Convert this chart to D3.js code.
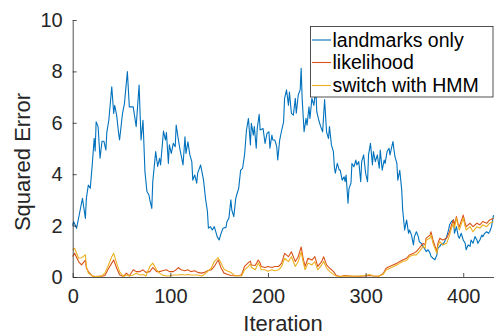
<!DOCTYPE html>
<html>
<head>
<meta charset="utf-8">
<script src="https://cdn.jsdelivr.net/npm/d3@7"></script>
<style>
  html, body { margin: 0; padding: 0; background: #fff; }
  svg { display: block; font-family: "Liberation Sans", Arial, Helvetica, sans-serif; }
</style>
</head>
<body>
<svg id="chart" width="494" height="335"></svg>
<script>
// landmarks only
const iterLandmarks = [0,1,4,7,10,13,14,16,18,20,22,23,24,26,28,30,32,34,35,37,40,42,43,45,47,48,51,53,56,58,62,65,68,70,72,74,76,78,79,81,82,85,87,89,90,93,95,96,98,99,101,103,105,106,108,110,111,113,115,116,118,120,122,123,125,127,128,131,134,136,138,139,141,143,145,146,148,150,152,154,157,158,160,162,163,165,167,168,170,172,174,176,178,180,182,183,185,186,188,189,191,192,195,197,199,201,202,204,205,207,209,210,212,214,216,217,219,221,222,224,226,228,229,231,233,234,235,237,239,240,242,243,245,247,249,250,252,254,256,258,260,262,263,265,267,268,269,271,273,274,276,278,279,280,282,283,285,286,288,290,291,293,295,296,298,300,302,303,305,307,308,310,312,314,315,317,319,320,322,324,325,326,328,330,332,333,335,337,338,340,342,344,345,347,349,350,352,354,355,357,359,361,362,364,366,367,369,371,373,374,376,378,379,381,383,385,386,388,390,391,393,395,396,398,400,402,403,405,407,408,410,412,414,415,417,419,420,422,424,426,427,429,431];
const landmarks = [2.0,2.15,1.9,2.48,3.06,2.28,3.06,3.58,3.45,4.36,5.4,4.9,6.04,5.85,4.62,5.28,5.28,4.94,5.65,6.1,7.4,6.36,6.68,6.3,5.6,5.33,6.36,6.75,7.99,6.62,6.62,5.85,7.47,5.33,6.1,4.1,3.33,3.2,3.0,2.67,3.7,4.88,4.3,4.62,4.36,5.68,5.33,5.62,4.42,5.14,4.81,5.2,5.07,5.91,5.4,4.94,4.75,4.36,5.46,4.81,5.26,4.75,4.49,3.77,3.97,3.65,4.04,4.36,3.77,3.06,2.55,1.9,1.96,1.83,1.96,1.83,1.57,1.44,1.7,1.9,1.93,2.16,2.29,3.0,2.6,2.35,3.06,3.2,3.45,4.16,4.23,4.75,5.72,6.17,5.14,5.98,5.52,5.85,5.01,5.78,6.33,5.72,5.78,5.2,5.59,5.65,5.01,5.52,5.33,5.33,5.07,4.55,5.33,5.7,6.04,6.95,7.28,6.68,7.2,6.37,6.3,6.95,6.37,7.08,7.28,8.12,6.95,5.65,6.17,5.91,6.62,6.17,6.95,6.68,7.34,6.43,6.11,5.85,5.65,6.9,5.65,5.39,5.85,5.14,4.88,4.29,4.04,4.42,4.16,4.16,3.77,3.9,3.71,3.97,2.87,3.45,3.65,4.42,4.29,4.55,4.36,4.49,3.71,4.49,4.75,4.04,3.71,4.75,5.2,4.36,4.88,4.49,4.75,4.23,4.94,4.16,4.55,4.42,4.88,5.01,4.75,4.93,5.27,4.69,4.43,3.77,4.15,3.38,2.61,1.83,2.22,1.7,1.83,1.63,1.25,1.57,1.76,1.57,1.38,1.31,1.19,1.06,0.99,1.06,0.93,0.8,0.73,0.67,0.86,1.12,1.19,1.31,1.25,1.38,1.57,1.83,2.03,2.16,2.22,1.7,1.96,1.57,1.51,1.7,1.44,1.31,1.06,1.25,1.19,1.44,1.31,1.57,1.44,1.31,1.44,1.63,1.57,1.7,1.76,1.7,1.76,1.96,2.41];

// likelihood and switch with HMM share one set of iterations
const iterLow = [0,2,6,9,13,14,16,20,23,26,30,33,36,40,42,45,48,52,55,58,62,65,69,72,75,79,82,86,89,92,96,99,103,106,108,111,115,118,121,125,128,132,135,138,142,145,149,152,155,159,162,166,170,173,176,180,182,183,187,190,192,193,197,200,204,207,211,214,217,221,224,228,231,234,236,238,241,245,248,251,255,257,260,263,267,270,274,279,286,292,299,304,308,313,315,318,321,325,328,332,335,338,342,345,349,352,355,359,361,362,366,367,369,373,374,376,379,383,386,388,390,391,393,395,396,400,402,403,407,410,414,417,420,424,427,431];
const likelihood = [0.8,0.92,0.6,0.47,0.66,0.35,0.21,0.04,0.02,0.03,0.03,0.06,0.28,0.54,0.66,0.35,0.09,0.02,0.15,0.04,0.28,0.21,0.21,0.28,0.18,0.21,0.37,0.21,0.21,0.24,0.28,0.21,0.21,0.28,0.37,0.28,0.24,0.28,0.21,0.24,0.18,0.15,0.18,0.24,0.28,0.41,0.66,0.35,0.15,0.1,0.06,0.05,0.05,0.09,0.41,0.56,0.62,0.47,0.45,0.66,0.54,0.41,0.37,0.41,0.37,0.41,0.41,0.54,0.92,0.79,0.98,0.6,0.79,1.17,0.73,0.41,0.73,0.66,0.79,0.41,0.6,0.79,0.47,0.35,0.22,0.06,0.02,0.06,0.03,0.03,0.04,0.06,0.04,0.03,0.06,0.14,0.34,0.42,0.47,0.53,0.6,0.66,0.73,0.86,0.92,0.99,1.12,1.31,1.25,1.51,1.63,1.76,1.44,0.99,1.31,1.51,1.44,1.51,1.76,2.03,2.22,2.03,2.35,2.03,1.96,2.41,2.09,1.96,2.09,1.96,2.09,2.03,2.16,2.09,2.22,2.29];
const switchHmm = [1.05,1.12,0.73,0.75,0.86,0.41,0.15,0.04,0.02,0.02,0.05,0.15,0.41,0.79,0.92,0.54,0.21,0.02,0.08,0.04,0.08,0.15,0.08,0.1,0.04,0.41,0.54,0.28,0.15,0.08,0.04,0.04,0.08,0.08,0.08,0.1,0.08,0.1,0.08,0.08,0.08,0.04,0.1,0.21,0.35,0.6,0.75,0.54,0.3,0.22,0.18,0.05,0.05,0.04,0.28,0.41,0.5,0.37,0.28,0.54,0.41,0.28,0.28,0.22,0.28,0.24,0.28,0.41,0.73,0.6,0.79,0.41,0.6,0.98,0.6,0.28,0.54,0.47,0.6,0.28,0.47,0.6,0.35,0.22,0.1,0.04,0.02,0.04,0.03,0.03,0.06,0.1,0.04,0.03,0.06,0.1,0.27,0.34,0.4,0.47,0.53,0.6,0.64,0.8,0.86,0.86,0.99,1.19,1.12,1.44,1.51,1.63,1.31,0.92,1.19,1.38,1.25,1.31,1.63,1.9,2.09,1.9,2.29,1.96,1.83,2.29,1.96,1.83,1.96,1.76,1.96,1.9,2.03,1.96,2.09,2.16];

const seriesNames = ['landmarks only', 'likelihood', 'switch with HMM'];
const seriesColors = ['#0072BD', '#D95319', '#EDB120'];
const xTicks = [0, 100, 200, 300, 400];
const yTicks = [0, 2, 4, 6, 8, 10];

const series = [
  { name: seriesNames[0], color: seriesColors[0], pts: iterLandmarks.map((d, i) => [d, landmarks[i]]) },
  { name: seriesNames[1], color: seriesColors[1], pts: iterLow.map((d, i) => [d, likelihood[i]]) },
  { name: seriesNames[2], color: seriesColors[2], pts: iterLow.map((d, i) => [d, switchHmm[i]]) }
];

const svg = d3.select('#chart');
const axisColor = '#262626';

const x = d3.scaleLinear().domain([0, 431]).range([72.7, 493.5]);
const y = d3.scaleLinear().domain([0, 10]).range([277, 20]);

const line = d3.line().x((d) => x(d[0])).y((d) => y(d[1]));

// lines
series.forEach((s) => {
  svg.append('path')
    .attr('d', line(s.pts))
    .attr('fill', 'none')
    .attr('stroke', s.color)
    .attr('stroke-width', 1.1)
    .attr('stroke-linejoin', 'round');
});

// axes (ticks point inward, box off)
const xAxis = svg.append('g')
  .attr('transform', `translate(0,${y(0)})`)
  .call(d3.axisBottom(x).tickValues(xTicks).tickSizeInner(-4).tickSizeOuter(0).tickPadding(12));

const yAxis = svg.append('g')
  .attr('transform', `translate(${x(0)},0)`)
  .call(d3.axisLeft(y).tickValues(yTicks).tickSizeInner(-4).tickSizeOuter(0).tickPadding(10));

[xAxis, yAxis].forEach((ax) => {
  ax.selectAll('path, line').attr('stroke', axisColor).attr('stroke-width', 0.8);
  ax.selectAll('text').attr('fill', axisColor).style('font-size', '20px').style('font-family', null);
});

// axis labels
svg.append('text')
  .attr('x', (x.range()[0] + x.range()[1]) / 2)
  .attr('y', 330.5)
  .attr('text-anchor', 'middle')
  .attr('fill', axisColor)
  .style('font-size', '22px')
  .text('Iteration');

svg.append('text')
  .attr('transform', 'translate(30,162) rotate(-90)')
  .attr('text-anchor', 'middle')
  .attr('fill', axisColor)
  .style('font-size', '22px')
  .text('Squared Error');

// legend
const legend = svg.append('g');
legend.append('rect')
  .attr('x', 310.5).attr('y', 26.5)
  .attr('width', 182.5).attr('height', 70.5)
  .attr('fill', '#fff')
  .attr('stroke', axisColor)
  .attr('stroke-width', 0.8);

const rowY = [40, 62.5, 85.5];
series.forEach((s, i) => {
  legend.append('line')
    .attr('x1', 312).attr('x2', 331)
    .attr('y1', rowY[i]).attr('y2', rowY[i])
    .attr('stroke', s.color)
    .attr('stroke-width', 1.1);
  legend.append('text')
    .attr('x', 332.5)
    .attr('y', rowY[i] + 6.5)
    .attr('fill', '#000')
    .style('font-size', '19.5px')
    .text(s.name);
});
</script>
</body>
</html>
